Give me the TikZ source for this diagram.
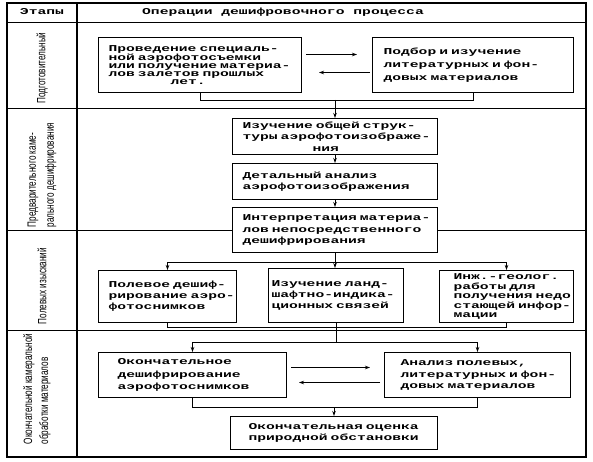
\documentclass[tikz,border=0pt]{standalone}
\usepackage{fontspec}
\newfontfamily\twfont[FakeStretch=1.63]{Liberation Mono}
\newfontfamily\lblfont[FakeStretch=0.68]{Liberation Sans}
\usetikzlibrary{arrows.meta,calc}
\exhyphenpenalty=10000
\hyphenpenalty=10000
\begin{document}
\begin{tikzpicture}[x=1pt,y=-1pt,
  box/.style={draw, line width=1pt, fill=white, anchor=north west, align=left,
    font=\twfont\bfseries\fontsize{9}{11.5}\selectfont, inner ysep=0pt},
  arr/.style={-{Stealth[length=5pt,width=3.5pt]}},
  ln/.style={line width=0.9pt},
  lab/.style={rotate=90, font=\lblfont\fontsize{12}{18}\selectfont, align=left, inner sep=0pt},
  head/.style={font=\twfont\bfseries\fontsize{9}{11}\selectfont, inner sep=0pt}]
\useasboundingbox (0,0) rectangle (593,462);
% table frame
\draw[line width=1.2pt] (7,3) rectangle (586,457);
\draw[line width=1.1pt] (77,3) -- (77,457);
\draw[ln] (7,22) -- (586,22);
\draw[ln] (7,108) -- (586,108);
\draw[ln] (7,230) -- (586,230);
\draw[ln] (7,330) -- (586,330);
% header
\node[head] (h1) at (42,12) {Этапы};
\node[head] (h2) at (283,12) {Операции дешифровочного процесса};
% stage labels
\node[lab] (L1) at (42,68) {Подготовительный};
\node[lab] (L2) at (42,175) {Предварительного каме-\\рального дешифрирования};
\node[lab] (L3) at (42,286) {Полевых изысканий};
\node[lab, font=\lblfont\fontsize{12}{16}\selectfont] (L4) at (37,389) {Окончательной камеральной\\обработки материалов};
% boxes
\node[box, minimum width=203pt, minimum height=55pt, inner xsep=10pt, text width=183pt,
  font=\twfont\bfseries\fontsize{9}{7.8}\selectfont] (A) at (98,37)
  {Проведение~специаль-\\ной~аэрофотосъемки\\или~получение~материа-\\лов~залетов~прошлых\\\hspace*{62pt}лет.};
\node[box, minimum width=201pt, minimum height=55pt, inner xsep=11pt, text width=179pt,
  font=\twfont\bfseries\fontsize{9}{13}\selectfont] (B) at (372,37)
  {Подбор~и~изучение\\литературных~и~фон-\\довых~материалов};
\node[box, minimum width=205pt, minimum height=36pt, inner xsep=10pt, text width=185pt] (C) at (232,118)
  {Изучение~общей~струк-\\туры~аэрофотоизображе-\\\hspace*{70pt}ния};
\node[box, minimum width=205pt, minimum height=36pt, inner xsep=10pt, text width=185pt] (D) at (232,163)
  {Детальный~анализ\\аэрофотоизображения};
\node[box, minimum width=205pt, minimum height=45pt, inner xsep=10pt, text width=185pt] (E) at (232,207)
  {Интерпретация~материа-\\лов~непосредственного\\дешифрирования};
\node[box, minimum width=138pt, minimum height=52pt, inner xsep=10pt, text width=118pt,
  font=\twfont\bfseries\fontsize{9}{11}\selectfont] (F) at (98,270)
  {Полевое~дешиф-\\рирование~аэро-\\фотоснимков};
\node[box, minimum width=135pt, minimum height=54pt, inner xsep=3pt, text width=129pt,
  font=\twfont\bfseries\fontsize{9}{11}\selectfont] (G) at (268,268)
  {Изучение~ланд-\\шафтно-индика-\\ционных~связей};
\node[box, minimum width=134pt, minimum height=52pt, inner xsep=14pt, text width=106pt,
  font=\twfont\bfseries\fontsize{9}{9.5}\selectfont] (H) at (439,270)
  {Инж.-геолог.\\работы~для\\получения~недо\\стающей~инфор-\\мации};
\node[box, minimum width=188pt, minimum height=45pt, inner xsep=19pt, text width=150pt,
  font=\twfont\bfseries\fontsize{9}{12.5}\selectfont] (I) at (98,352)
  {Окончательное\\дешифрирование\\аэрофотоснимков};
\node[box, minimum width=186pt, minimum height=45pt, inner xsep=16pt, text width=154pt,
  font=\twfont\bfseries\fontsize{9}{11.7}\selectfont] (J) at (384,352)
  {Анализ~полевых,\\литературных~и~фон-\\довых~материалов};
\node[box, minimum width=207pt, minimum height=33pt, inner xsep=18pt, text width=171pt] (K) at (230,416)
  {Окончательная~оценка\\природной~обстановки};
% connectors
\draw[ln, arr, shorten <=4pt, shorten >=15pt] ([yshift=10.5pt]A.east) -- ([yshift=10.5pt]B.west);
\draw[ln, arr, shorten <=2pt, shorten >=17pt] ([yshift=-7.5pt]B.west) -- ([yshift=-7.5pt]A.east);
\draw[ln] (A.south) -- ++(0,7) coordinate (m1) -| (B.south);
\draw[ln, arr] (m1 -| C.north) -- (C.north);
\draw[ln, arr] (C.south) -- (D.north);
\draw[ln, arr] (D.south) -- (E.north);
\draw[ln] (E.south) -- ++(0,9) coordinate (s1);
\draw[ln, arr] (s1) -| (F.north);
\draw[ln, arr] (s1) -| (H.north);
\draw[ln, arr] (s1) -- (s1 |- G.north);
\draw[ln] (F.south) -- ++(0,4) coordinate (m2) -| (H.south);
\draw[ln] (G.south) -- (G.south |- m2);
\draw[ln] (m2 -| G.south) -- ++(0,15) coordinate (s2);
\draw[ln, arr] (s2) -| (I.north);
\draw[ln, arr] (s2) -| (J.north);
\draw[ln, arr, shorten <=4pt, shorten >=14pt] ([yshift=7.5pt]I.east) -- ([yshift=7.5pt]J.west);
\draw[ln, arr, shorten <=4pt, shorten >=12pt] ([yshift=-7.5pt]J.west) -- ([yshift=-7.5pt]I.east);
\draw[ln] (I.south) -- ++(0,9) coordinate (m3) -| (J.south);
\draw[ln, arr] (m3 -| K.north) -- (K.north);
\end{tikzpicture}
\end{document}
